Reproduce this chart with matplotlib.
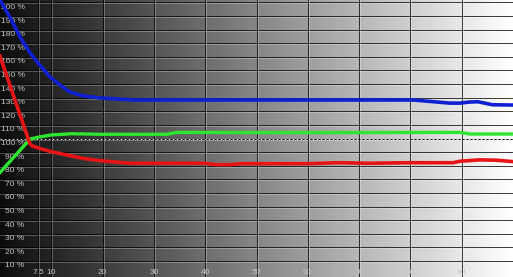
#/usr/bin/python3

import matplotlib
matplotlib.use('Agg')
import matplotlib.pyplot as plt
import matplotlib.transforms as mtransforms
import numpy as np

plt.rcParams['font.family'] = ['Liberation Sans', 'DejaVu Sans']
plt.rcParams['lines.scale_dashes'] = False

# RGB balance (%)
blue_x = [0, 1.95, 3.9, 5.85, 7.4, 9.75, 11.7, 13.6, 16.2, 19.5, 26, 40, 60, 80.5, 84, 87.7, 89.7, 91.5, 93.2, 96, 100]
blue_y = [201.8, 189, 174.6, 162.9, 155.5, 145.2, 139.3, 134.2, 131.3, 129.8, 128.3, 128.3, 128.3, 128.3, 127.2, 126, 126, 126.8, 127, 124.8, 124.6]

green_x = [0, 5.85, 7.5, 10, 14, 19.5, 32.5, 34.5, 50, 70, 89.7, 91.6, 100]
green_y = [75, 99.5, 101, 102.6, 103.5, 103.1, 103.1, 104.5, 104.4, 104.4, 104.5, 103.3, 103.3]

red_x = [0, 5.85, 6.3, 7.5, 10, 13, 16.2, 19.5, 25.3, 40, 42, 45, 47, 60, 66, 71.5, 80, 88.3, 89.7, 93.6, 96.9, 100]
red_y = [160.5, 96, 94.5, 93, 90.3, 87.9, 85.4, 83.7, 81.8, 81.8, 80.8, 80.8, 81.5, 81.5, 82.2, 81.8, 82.2, 82.2, 83.3, 84.3, 84, 83]

x_ticks = [7.5, 10, 20, 30, 40, 50, 60, 70, 80, 90]
x_labels = ['7.5', '10', '20', '30', '40', '50', '60', '70', '80', '90']
y_ticks = list(range(10, 201, 10))
y_labels = ['%d %%' % v for v in y_ticks]


def main():
    fig = plt.figure(figsize=(5.13, 2.77), dpi=100)
    ax = fig.add_axes([0, 0, 1, 1])
    ax.set_xlim(0, 100)
    ax.set_ylim(-1.8, 201.8)
    ax.axis('off')

    # grey ramp background
    ramp = np.linspace(0.05, 1.0, 256).reshape(1, -1)
    ax.imshow(ramp, cmap='gray', vmin=0, vmax=1, aspect='auto',
              extent=(0, 100, -1.8, 201.8), zorder=0, interpolation='bilinear')

    # embossed grid: dark line plus a light line one pixel off
    below = mtransforms.offset_copy(ax.transData, fig, x=0, y=-1, units='dots')
    right = mtransforms.offset_copy(ax.transData, fig, x=1, y=0, units='dots')
    for v in y_ticks:
        ax.plot([0, 100], [v, v], color='black', alpha=0.75, lw=0.72, zorder=1)
        ax.plot([0, 100], [v, v], color='white', alpha=0.28, lw=0.72, zorder=1, transform=below)
    for v in x_ticks:
        ax.plot([v, v], [-1.8, 201.8], color='black', alpha=0.75, lw=0.72, zorder=1)
        ax.plot([v, v], [-1.8, 201.8], color='white', alpha=0.28, lw=0.72, zorder=1, transform=right)

    # 100 % reference, dotted in white and black
    ax.plot([0, 100], [100, 100], color='white', alpha=0.9, lw=0.72, zorder=2,
            linestyle=(0, (1.44, 1.44)))
    ax.plot([0, 100], [100, 100], color='black', alpha=0.85, lw=0.72, zorder=2,
            linestyle=(1.44, (1.44, 1.44)))

    # labels
    ylab = mtransforms.offset_copy(ax.transData, fig, x=0, y=-1.5, units='dots')
    for v, s in zip(y_ticks, y_labels):
        ax.text(4.8, v, s, color='#c4c4c4', fontsize=6, ha='right', va='top',
                transform=ylab, zorder=3)
    xtrans = mtransforms.blended_transform_factory(ax.transData, ax.transAxes)
    xlab = mtransforms.offset_copy(xtrans, fig, x=0, y=1, units='dots')
    for v, s in zip(x_ticks, x_labels):
        ax.text(v, 0, s, color='#c4c4c4', fontsize=6, ha='center', va='bottom',
                transform=xlab, zorder=3)

    ax.plot(green_x, green_y, color='#2ee62e', lw=2.4, zorder=4, solid_joinstyle='round')
    ax.plot(red_x, red_y, color='#e61414', lw=2.6, zorder=4, solid_joinstyle='round')
    ax.plot(blue_x, blue_y, color='#0f1fd2', lw=2.6, zorder=4, solid_joinstyle='round')

    fig.savefig('out.png', dpi=100)


if __name__ == '__main__':
    main()
